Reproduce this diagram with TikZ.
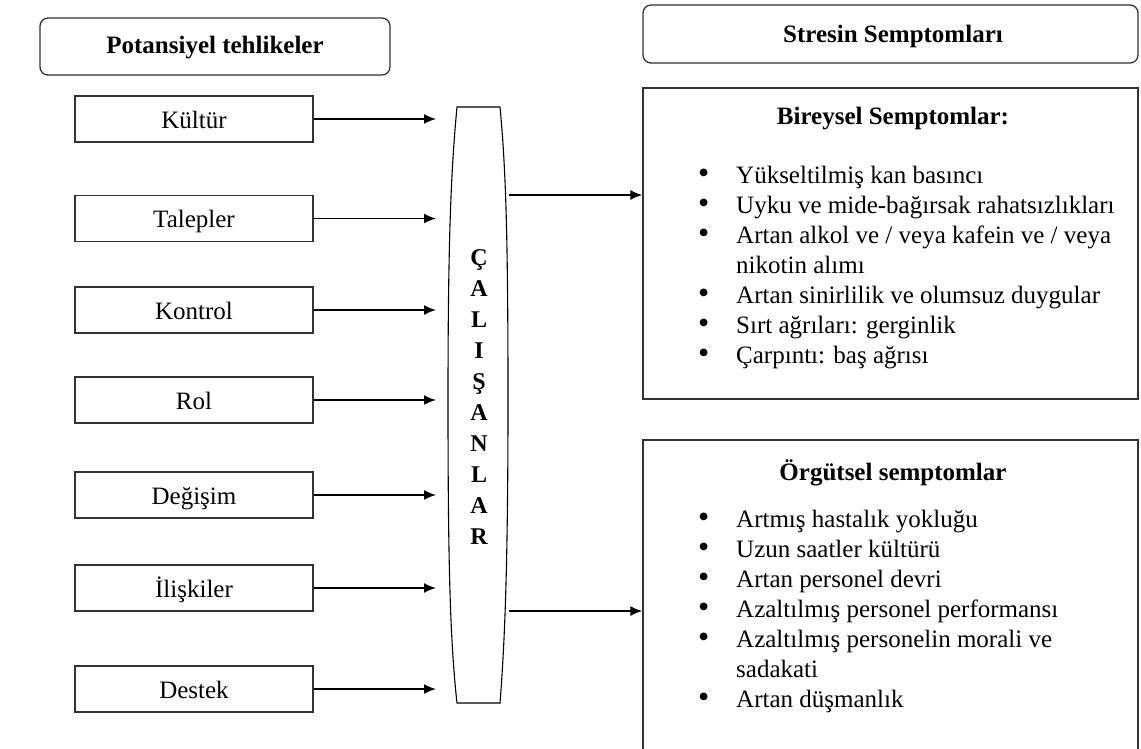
\documentclass[tikz,border=0pt]{standalone}
\usepackage{fontspec}
\setmainfont{Liberation Serif}
\usetikzlibrary{arrows.meta}
\definecolor{cizgi}{rgb}{0.2,0.2,0.2}
\newcommand{\madde}{{\fontsize{32}{30}\selectfont\textbullet}}

\begin{document}
\begin{tikzpicture}[x=1pt,y=-1pt,
	every node/.append style={font=\fontsize{25}{30}\selectfont},
	baslik/.style={draw=cizgi,line width=1.3pt,rounded corners=8pt,font=\fontsize{25}{30}\selectfont\bfseries},
	kutu/.style={draw=cizgi,line width=1.3pt,minimum width=238pt,minimum height=46pt,inner sep=0pt,text height=18pt,text depth=0pt},
	ok/.style={-{Latex[length=12pt,width=10pt]},line width=1.7pt}]
		\useasboundingbox (0,0) rectangle (1141,748);
		% basliklar
		\node[baslik,minimum width=350pt,minimum height=57pt] (tehlike) at (215,46.5) {};
		\node[anchor=base,font=\fontsize{25}{30}\selectfont\bfseries] (tehlikeyazi) at (215,53) {Potansiyel tehlikeler};
		\node[baslik,minimum width=495pt,minimum height=58pt] (stres) at (890.5,34) {};
		\node[anchor=base,font=\fontsize{25}{30}\selectfont\bfseries] (stresyazi) at (893,42) {Stresin Semptomları};
		% sol kutular
		\node[kutu] (kultur) at (194,119) {Kültür};
		\node[kutu] (talepler) at (194,218.5) {Talepler};
		\node[kutu] (kontrol) at (194,310) {Kontrol};
		\node[kutu] (rol) at (194,400) {Rol};
		\node[kutu] (degisim) at (194,495) {Değişim};
		\node[kutu] (iliskiler) at (194,588) {İlişkiler};
		\node[kutu] (destek) at (194,689) {Destek};
		% calisanlar
		\draw[line width=1.1pt] (457,107) -- (500,107) .. controls (506,170) and (508,240) .. (508,400) .. controls (508,560) and (505,640) .. (500,703) -- (457,703) .. controls (450,640) and (448,560) .. (448,400) .. controls (448,240) and (451,170) .. cycle;
		\node[align=center,inner sep=0pt,font=\fontsize{24}{31}\selectfont\bfseries] (calisan) at (479,397.5) {Ç\\A\\L\\I\\Ş\\A\\N\\L\\A\\R};
		\coordinate (uc) at (436,0);
		\draw[ok] (kultur.east) -- (kultur.east -| uc);
		\draw[ok] (talepler.east) -- (talepler.east -| uc);
		\draw[ok] (kontrol.east) -- (kontrol.east -| uc);
		\draw[ok] (rol.east) -- (rol.east -| uc);
		\draw[ok] (degisim.east) -- (degisim.east -| uc);
		\draw[ok] (iliskiler.east) -- (iliskiler.east -| uc);
		\draw[ok] (destek.east) -- (destek.east -| uc);
		% sag kutular
		\node[draw=cizgi,line width=1.3pt,minimum width=495pt,minimum height=311pt,inner sep=0pt] (bireysel) at (890.5,243.5) {};
		\node[draw=cizgi,line width=1.3pt,minimum width=495pt,minimum height=330pt,inner sep=0pt] (orgutsel) at (890.5,605) {};
		\node[anchor=base,font=\fontsize{25}{30}\selectfont\bfseries] (bireyselbaslik) at (893,124) {Bireysel Semptomlar:};
		\node[anchor=base,font=\fontsize{25}{30}\selectfont\bfseries] (orgutselbaslik) at (893,480) {Örgütsel semptomlar};
		\node[anchor=base west,inner sep=0pt] (bireyselliste) at (698,183) {\begin{tabular}[t]{@{}p{38pt}@{}l@{}}
			\madde & Yükseltilmiş kan basıncı\\
			\madde & Uyku ve mide-bağırsak rahatsızlıkları\\
			\madde & Artan alkol ve / veya kafein ve / veya\\
			& nikotin alımı\\
			\madde & Artan sinirlilik ve olumsuz duygular\\
			\madde & Sırt ağrıları: gerginlik\\
			\madde & Çarpıntı: baş ağrısı
		\end{tabular}};
		\node[anchor=base west,inner sep=0pt] (orgutselliste) at (698,527) {\begin{tabular}[t]{@{}p{38pt}@{}l@{}}
			\madde & Artmış hastalık yokluğu\\
			\madde & Uzun saatler kültürü\\
			\madde & Artan personel devri\\
			\madde & Azaltılmış personel performansı\\
			\madde & Azaltılmış personelin morali ve\\
			& sadakati\\
			\madde & Artan düşmanlık
		\end{tabular}};
		\coordinate (cikis1) at (509,195);
		\coordinate (cikis2) at (509,611);
		\draw[ok] (cikis1) -- (cikis1 -| bireysel.west);
		\draw[ok] (cikis2) -- (cikis2 -| orgutsel.west);
\end{tikzpicture}
\end{document}
